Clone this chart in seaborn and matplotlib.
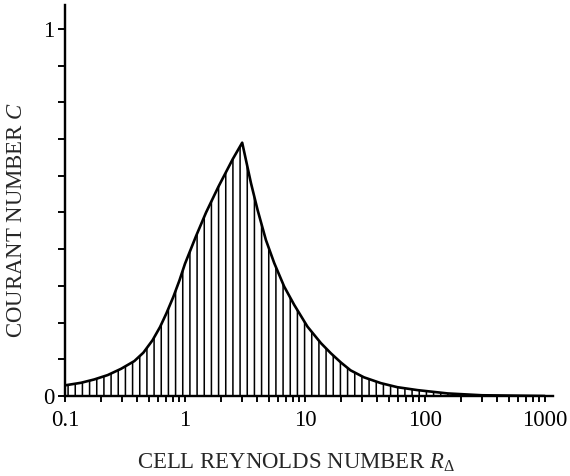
import numpy as np
import matplotlib
matplotlib.use("Agg")
import matplotlib.pyplot as plt
import seaborn as sns
from matplotlib.ticker import LogLocator, NullFormatter

# values
reynolds = [0.1, 0.136, 0.175, 0.227, 0.293, 0.378, 0.45, 0.537, 0.62, 0.7,
            0.8, 0.9, 1.0, 1.235, 1.5, 1.9, 2.5, 3.0, 3.55, 4.03, 4.73, 5.55,
            6.72, 8.15, 10.5, 13.6, 16.5, 20, 24, 31, 43, 59, 87, 155, 300,
            1000]
courant = [0.029, 0.036, 0.045, 0.057, 0.074, 0.095, 0.118, 0.152, 0.188,
           0.225, 0.270, 0.315, 0.360, 0.435, 0.500, 0.570, 0.645, 0.690,
           0.580, 0.507, 0.425, 0.362, 0.298, 0.248, 0.189, 0.144, 0.116,
           0.091, 0.070, 0.051, 0.035, 0.024, 0.016, 0.007, 0.002, 0.0]

xtick_vals = [0.1, 1, 10, 100, 1000]
xtick_labels = ["0.1", "1", "10", "100", "1000"]
ytick_vals = [0, 0.1, 0.2, 0.3, 0.4, 0.5, 0.6, 0.7, 0.8, 0.9, 1.0]
ytick_labels = ["0", "", "", "", "", "", "", "", "", "", "1"]

sns.set_style("ticks")
plt.rcParams["font.family"] = ["Liberation Serif", "DejaVu Serif"]
plt.rcParams["mathtext.fontset"] = "custom"
plt.rcParams["mathtext.rm"] = "Liberation Serif"
plt.rcParams["mathtext.it"] = "Liberation Serif:italic"
plt.rcParams["hatch.linewidth"] = 1.3

dpi = 86
fig = plt.figure(figsize=(570 / dpi, 476 / dpi), dpi=dpi)
ax = fig.add_subplot(111)
fig.subplots_adjust(left=65 / 570, right=553 / 570, bottom=80 / 476, top=1 - 5 / 476)

ax.fill_between(reynolds, 0, courant, facecolor="none", edgecolor="k",
                hatch="||", linewidth=0)
sns.lineplot(x=reynolds, y=courant, color="k", linewidth=2.2, ax=ax)

ax.set_xscale("log")
ax.set_xlim(0.1, 1170)
ax.set_ylim(0, 1.065)

ax.set_xticks(xtick_vals, labels=xtick_labels)
ax.xaxis.set_minor_locator(LogLocator(base=10, subs=np.arange(2, 10)))
ax.xaxis.set_minor_formatter(NullFormatter())
ax.set_yticks(ytick_vals, labels=ytick_labels)

ax.tick_params(axis="both", which="both", direction="out", width=1.6,
               labelsize=19, color="k", labelcolor="k")
ax.tick_params(axis="x", which="both", length=5, pad=7)
ax.tick_params(axis="y", which="both", length=6, pad=3)

for side in ["top", "right"]:
    ax.spines[side].set_visible(False)
for side in ["left", "bottom"]:
    ax.spines[side].set_linewidth(2.0)
    ax.spines[side].set_color("k")

ax.set_xlabel(r"CELL REYNOLDS NUMBER $R_\Delta$", fontsize=19)
ax.set_ylabel(r"COURANT NUMBER $C$", fontsize=19)
ax.xaxis.set_label_coords(0.473, -0.143)
ax.yaxis.set_label_coords(-0.078, 0.45)

fig.savefig("out.png", dpi=dpi)
